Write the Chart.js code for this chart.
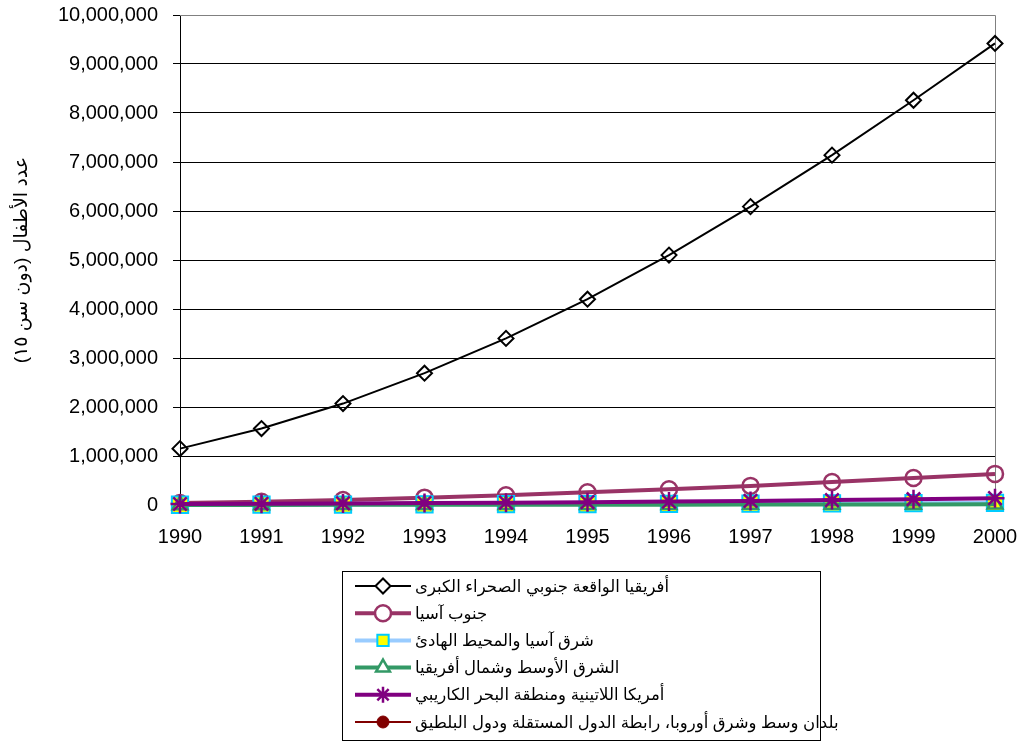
<!DOCTYPE html>
<html>
<head>
<meta charset="utf-8">
<script src="https://cdn.jsdelivr.net/npm/chart.js@4/dist/chart.umd.min.js"></script>
<style>
  html, body { margin: 0; padding: 0; background: #fff; }
  #wrap { width: 1021px; height: 742px; }
</style>
</head>
<body>
<div id="wrap"><canvas id="chart" width="1021" height="742"></canvas></div>
<script>
var years = ["1990", "1991", "1992", "1993", "1994", "1995", "1996", "1997", "1998", "1999", "2000"];

var ssAfrica  = [1150000, 1560000, 2070000, 2690000, 3400000, 4200000, 5100000, 6090000, 7140000, 8260000, 9420000];
var southAsia = [40000, 65000, 100000, 150000, 200000, 260000, 320000, 390000, 470000, 550000, 635000];
var eastAsia  = [5000, 7000, 10000, 13000, 16000, 20000, 24000, 28000, 33000, 38000, 45000];
var mena      = [2000, 2500, 3500, 4500, 5500, 6500, 7500, 9000, 10000, 11500, 13000];
var latAm     = [20000, 25000, 32000, 40000, 48000, 58000, 70000, 84000, 100000, 118000, 140000];
var cee       = [null, null, null, null, null, null, null, null, null, null, null];

var seriesNames = [
    "أفريقيا الواقعة جنوبي الصحراء الكبرى",
    "جنوب آسيا",
    "شرق آسيا والمحيط الهادئ",
    "الشرق الأوسط وشمال أفريقيا",
    "أمريكا اللاتينية ومنطقة البحر الكاريبي",
    "بلدان وسط وشرق أوروبا، رابطة الدول المستقلة ودول البلطيق"
];

var yTitle = "\u200Fعدد الأطفال (دون سن ١٥)\u200F";
var yMax = 10000000;
var yStep = 1000000;

var FONT = "'Liberation Sans', 'DejaVu Sans', Arial, sans-serif";

function series(i, data, color, lineWidth, style, radius, fill, border, bw) {
    return {
        label: seriesNames[i],
        data: data,
        borderColor: color,
        borderWidth: lineWidth,
        pointStyle: style,
        pointRadius: radius,
        pointHoverRadius: radius,
        pointBackgroundColor: fill,
        pointBorderColor: border,
        pointBorderWidth: bw,
        tension: 0,
        fill: false,
        clip: false,
        order: 6 - i
    };
}

var datasets = [
    series(0, ssAfrica, "#000000", 2, "rectRot", 7.5, "rgba(0,0,0,0)", "#000000", 2),
    series(1, southAsia, "#993366", 4, "circle", 8, "rgba(0,0,0,0)", "#993366", 2.5),
    series(2, eastAsia, "#99CCFF", 4, "rect", 11.5, "#FFFF00", "#00CCFF", 2),
    series(3, mena, "#339966", 4, "triangle", 8.5, "rgba(0,0,0,0)", "#339966", 2.5),
    series(4, latAm, "#800080", 4, "star", 9.5, "#800080", "#800080", 2.5),
    series(5, cee, "#800000", 2, "circle", 6, "#800000", "#800000", 1)
];

// gray plot border on top/right, and the boxed legend under the chart
var framePlugin = {
    id: "frame",
    beforeDatasetsDraw: function(chart) {
        var c = chart.ctx, a = chart.chartArea;
        c.save();
        c.strokeStyle = "#808080";
        c.lineWidth = 1;
        c.beginPath();
        c.moveTo(a.left, a.top + 0.5);
        c.lineTo(a.right + 0.5, a.top + 0.5);
        c.lineTo(a.right + 0.5, a.bottom);
        c.stroke();
        c.restore();
    },
    afterDraw: function(chart) {
        var c = chart.ctx;
        var box = { x: 342, y: 571, w: 478, h: 169 };
        c.save();
        c.strokeStyle = "#000";
        c.lineWidth = 1;
        c.strokeRect(box.x + 0.5, box.y + 0.5, box.w, box.h);
        c.font = "16.5px " + FONT;
        c.textAlign = "left";
        c.textBaseline = "middle";
        chart.data.datasets.forEach(function(ds, i) {
            var y = 586 + i * 27.2;
            c.strokeStyle = ds.borderColor;
            c.lineWidth = ds.borderWidth;
            c.beginPath();
            c.moveTo(355, y);
            c.lineTo(411, y);
            c.stroke();
            var fill = ds.pointBackgroundColor === "rgba(0,0,0,0)" ? "#fff" : ds.pointBackgroundColor;
            c.fillStyle = fill;
            c.strokeStyle = ds.pointBorderColor;
            c.lineWidth = ds.pointBorderWidth;
            Chart.helpers.drawPoint(c, {
                pointStyle: ds.pointStyle,
                radius: Math.min(ds.pointRadius, 8),
                borderWidth: ds.pointBorderWidth,
                rotation: 0
            }, 383, y);
            c.fillStyle = "#000";
            c.fillText(ds.label, 415, y + 1);
        });
        c.restore();
    }
};

var ctx = document.getElementById("chart").getContext("2d");
var myChart = new Chart(ctx, {
    type: "line",
    data: {
        labels: years,
        datasets: datasets
    },
    options: {
        responsive: false,
        animation: false,
        layout: {
            padding: { top: 15, right: 26, bottom: 177, left: 0 }
        },
        plugins: {
            legend: { display: false },
            tooltip: { enabled: false }
        },
        scales: {
            x: {
                offset: false,
                afterFit: function(s) {
                    s.height = 60;
                    s.paddingLeft = 0;
                    s.paddingRight = 0;
                },
                grid: { display: false, drawTicks: false, tickLength: 0 },
                border: { display: true, color: "#000", width: 1 },
                ticks: {
                    color: "#000",
                    padding: 20,
                    maxRotation: 0,
                    font: { family: FONT, size: 20 }
                }
            },
            y: {
                min: 0,
                max: yMax,
                afterFit: function(s) {
                    s.width = 180;
                    s.paddingTop = 0;
                    s.paddingBottom = 0;
                },
                grid: {
                    color: function(c) { return c.tick && c.tick.value === yMax ? "#808080" : "#000"; },
                    tickColor: "#000",
                    tickLength: 7,
                    lineWidth: 1
                },
                border: { display: true, color: "#000", width: 1 },
                title: {
                    display: true,
                    text: yTitle,
                    color: "#000",
                    padding: { top: 10, bottom: 0 },
                    font: { family: FONT, size: 19 }
                },
                ticks: {
                    stepSize: yStep,
                    color: "#000",
                    padding: 15,
                    font: { family: FONT, size: 20 },
                    callback: function(v) { return v.toLocaleString("en-US"); }
                }
            }
        }
    },
    plugins: [framePlugin]
});
</script>
</body>
</html>
